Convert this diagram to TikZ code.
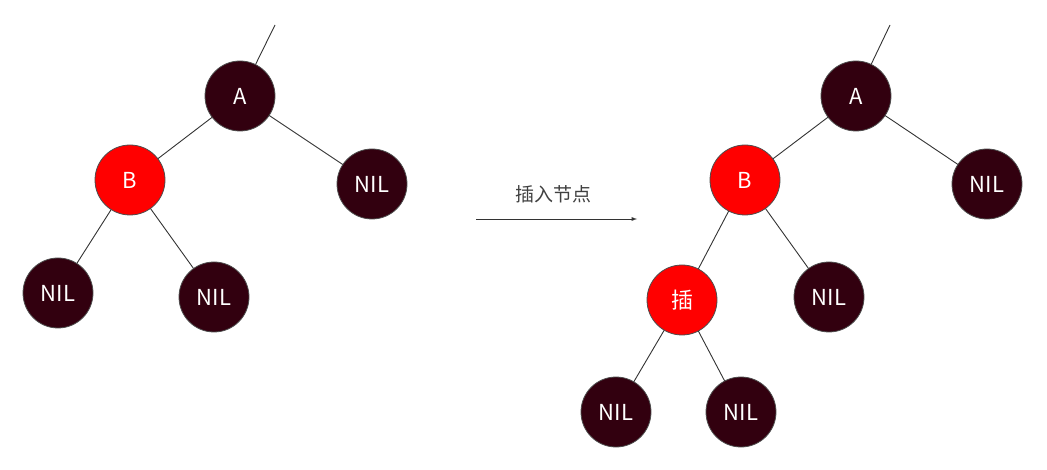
\documentclass[tikz,border=0pt]{standalone}
\usepackage{fontspec}
\setmainfont{Noto Sans CJK SC}
\begin{document}
\begin{tikzpicture}[x=1pt,y=-1pt,
  nd/.style={circle,draw=black!70,line width=0.8pt,minimum size=70pt,inner sep=0pt,text=white,font=\fontsize{22}{24}\selectfont},
  blk/.style={nd,fill=black!30!red!20!black,fill={rgb,255:red,50;green,0;blue,15}},
  rd/.style={nd,fill={rgb,255:red,255;green,0;blue,0}},
  ed/.style={draw=black!80,line width=0.9pt}]
\useasboundingbox (0,0) rectangle (1047,470);
% left tree
\coordinate (ta) at (275,25);
\coordinate (tb) at (890,25);
\begin{scope}[on background layer/.try]
\end{scope}
\draw[ed] (240,96) -- (ta);
\draw[ed] (240,96) -- (130,180);
\draw[ed] (240,96) -- (372,184);
\draw[ed] (130,180) -- (58,293);
\draw[ed] (130,180) -- (214,297);
\node[blk] (A) at (240,96) {A};
\node[rd] (B) at (130,180) {B};
\node[blk] (N1) at (372,184) {NIL};
\node[blk] (N2) at (58,293) {NIL};
\node[blk] (N3) at (214,297) {NIL};
% right tree
\draw[ed] (856,96) -- (tb);
\draw[ed] (856,96) -- (745,180);
\draw[ed] (856,96) -- (987,184);
\draw[ed] (745,180) -- (682,300);
\draw[ed] (745,180) -- (829,297);
\draw[ed] (682,300) -- (616,412);
\draw[ed] (682,300) -- (741,412);
\node[blk] (A2) at (856,96) {A};
\node[rd] (B2) at (745,180) {B};
\node[blk] (M1) at (987,184) {NIL};
\node[rd] (I) at (682,300) {插};
\node[blk] (M2) at (829,297) {NIL};
\node[blk] (M3) at (616,412) {NIL};
\node[blk] (M4) at (741,412) {NIL};
% arrow
\coordinate (s) at (476,219);
\coordinate (e) at (637,219);
\draw[ed,-latex] (s) -- (e);
\node[text=black!75,font=\fontsize{19}{21}\selectfont] (lbl) at (553,194) {插入节点};
\end{tikzpicture}
\end{document}
